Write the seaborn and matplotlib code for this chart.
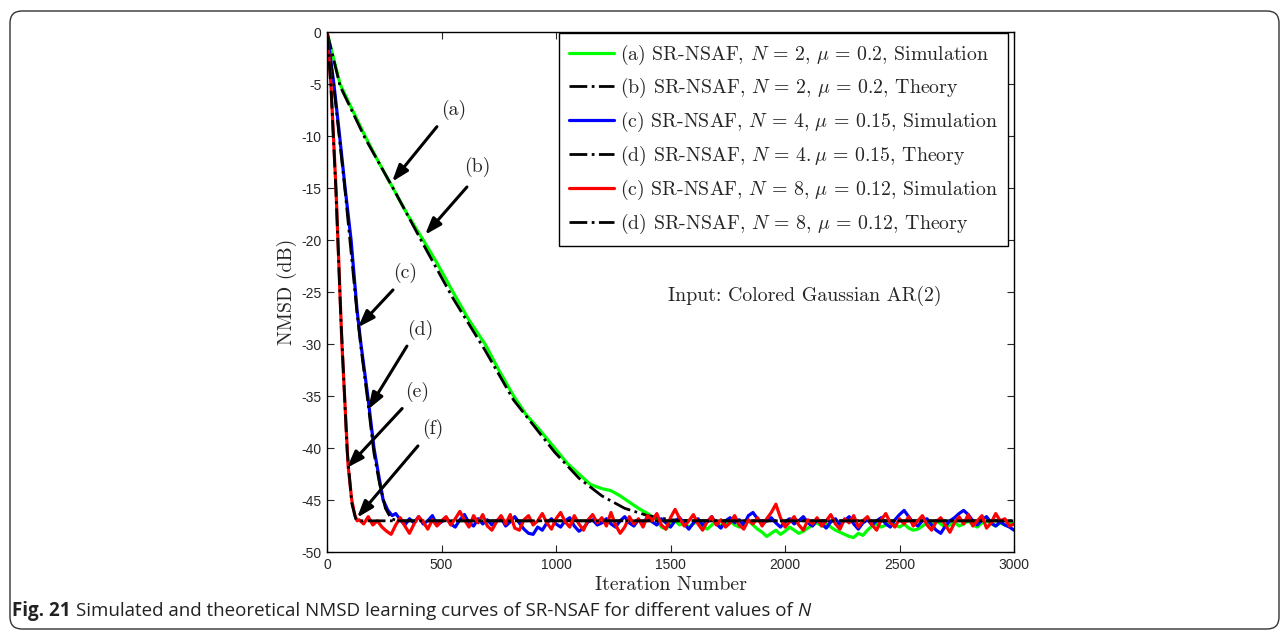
import matplotlib
matplotlib.use("Agg")
import matplotlib.pyplot as plt
from matplotlib.patches import FancyBboxPatch
from matplotlib.transforms import IdentityTransform
import numpy as np
import seaborn as sns

# ---- data (iteration, NMSD dB) ----
# transient parts of the simulated curves
green_sim_it = [0, 20, 57, 100, 166, 230, 288, 350, 420, 480, 550, 620, 690,
                750, 815, 870, 930, 994, 1050, 1100, 1150, 1200, 1240, 1280,
                1320, 1360, 1400, 1440]
green_sim_db = [0, -1.8, -5, -7, -10, -12.7, -15, -17.5, -20, -22.2, -25,
                -27.7, -30, -32.5, -35, -36.8, -38.3, -40, -41.5, -42.5,
                -43.5, -43.9, -44.1, -44.6, -45.2, -45.8, -46.3, -46.9]
blue_sim_it = [0, 30, 55, 79, 105, 131, 148, 178, 205, 223, 245, 266, 285]
blue_sim_db = [0, -5, -10, -15, -20, -26.7, -30, -35, -40, -42.3, -45, -46,
               -46.5]
red_sim_it = [0, 17, 39, 60, 65, 88, 92, 108, 122, 132]
red_sim_db = [0, -5, -15, -27, -30, -40, -41.7, -45, -46.5, -47]

# steady-state parts (every 20 iterations up to 3000)
green_ss_start = 1460
green_ss = [-47.6, -47.8, -47.3, -47.0, -47.4, -47.2, -47.6, -47.3, -47.0,
            -47.5, -47.8, -47.4, -47.1, -47.5, -47.3, -47.0, -47.4, -47.6,
            -47.2, -47.0, -47.4, -47.8, -48.1, -48.5, -48.2, -47.9, -48.3,
            -48.0, -47.6, -47.9, -48.2, -48.0, -47.7, -47.4, -47.2, -47.5,
            -47.3, -47.6, -47.9, -48.1, -48.3, -48.5, -48.6, -48.2, -48.4,
            -47.9, -47.5, -47.3, -47.6, -47.4, -47.1, -47.4, -47.6, -47.3,
            -47.7, -47.9, -47.8, -47.5, -47.2, -47.4, -47.0, -47.3, -47.6,
            -47.4, -47.1, -47.5, -47.3, -47.0, -47.4, -47.6, -47.2, -47.0,
            -47.3, -47.5, -47.2, -47.4, -47.3, -47.2]
blue_ss_start = 300
blue_ss = [-46.3, -46.9, -47.4, -46.8, -47.2, -46.6, -47.3, -47.0, -46.5,
           -47.4, -47.1, -46.7, -47.3, -47.6, -46.9, -46.4, -47.2, -47.5,
           -46.8, -47.3, -46.9, -47.4, -47.0, -46.7, -47.5, -47.1, -46.6,
           -47.2, -47.8, -48.2, -48.3, -47.6, -47.9, -47.2, -46.8, -47.3,
           -47.6, -47.0, -46.7, -47.5, -48.0, -47.7, -47.1, -46.9, -47.4,
           -47.2, -46.8, -47.3, -47.6, -47.0, -46.6, -47.2, -47.5, -46.9,
           -47.3, -46.6, -47.1, -47.4, -46.8, -47.2, -47.6, -47.0, -46.7,
           -47.3, -47.8, -47.2, -46.8, -47.4, -47.1, -46.6, -47.3, -47.7,
           -47.0, -46.7, -47.2, -46.9, -47.4, -46.5, -46.2, -46.8, -47.3,
           -47.0, -46.7, -47.2, -47.6, -47.1, -46.8, -47.3, -47.0, -46.6,
           -47.2, -47.5, -46.9, -47.3, -47.7, -47.1, -46.8, -47.4, -47.0,
           -46.6, -47.3, -47.8, -47.2, -46.9, -47.4, -47.0, -46.7, -47.3,
           -47.6, -46.9, -46.4, -46.0, -46.6, -47.2, -47.5, -47.0, -46.8,
           -47.4, -47.9, -48.2, -47.5, -47.0, -46.7, -46.3, -46.0, -46.4,
           -47.0, -47.4, -46.9, -46.6, -47.2, -47.5, -47.1, -47.4, -47.6,
           -47.9]
red_ss_start = 140
red_ss = [-46.9, -47.3, -46.6, -47.4, -47.0, -47.6, -48.0, -48.3, -47.4,
          -46.7, -47.5, -48.2, -47.3, -46.6, -47.1, -47.8, -46.9, -47.5,
          -47.0, -46.6, -47.4, -46.8, -46.1, -46.9, -47.6, -46.5, -47.2,
          -46.4, -47.5, -47.9, -47.1, -46.5, -47.3, -46.4, -47.7, -47.9,
          -46.9, -46.5, -47.4, -47.0, -46.3, -47.2, -47.8, -46.8, -46.2,
          -47.1, -47.6, -46.5, -47.3, -47.9, -46.9, -46.4, -47.2, -46.7,
          -47.5, -46.2, -47.4, -48.2, -47.6, -46.6, -47.3, -46.8, -47.6,
          -46.5, -47.0, -46.3, -47.4, -47.8, -46.7, -45.9, -46.8, -47.5,
          -47.0, -46.4, -47.3, -47.9, -47.1, -46.6, -47.4, -46.9, -47.6,
          -47.2, -46.5, -47.4, -47.8, -46.9, -47.3, -46.7, -47.5, -46.8,
          -46.2, -45.4, -46.7, -47.6, -47.1, -46.6, -47.4, -47.9, -46.9,
          -47.3, -46.7, -47.5, -47.0, -46.4, -47.3, -47.8, -46.8, -47.2,
          -46.5, -47.6, -47.0, -46.6, -47.4, -47.9, -46.9, -46.3, -47.2,
          -47.6, -46.8, -47.3, -46.6, -47.5, -47.0, -46.5, -47.4, -47.9,
          -47.1, -46.7, -47.4, -48.1, -47.2, -46.6, -47.3, -46.4, -47.5,
          -47.0, -46.5, -47.7, -47.2, -46.3, -47.0, -46.8, -47.5, -47.3]

# theory curves
green_th_it = [0, 57, 166, 288, 420, 550, 690, 815, 994, 1100, 1200, 1300,
               1400, 1500, 1600, 3000]
green_th_db = [0, -5.2, -10.2, -15, -20.4, -25.6, -30.6, -35.4, -40.4, -42.9,
               -44.6, -45.8, -46.5, -46.9, -47, -47]
blue_th_it = [0, 30, 79, 131, 148, 178, 205, 230, 255, 280, 310, 3000]
blue_th_db = [0, -5.3, -15.3, -27, -30.3, -35.5, -40.5, -43.5, -45.8, -46.8,
              -47, -47]
red_th_it = [0, 17, 39, 60, 88, 108, 125, 140, 3000]
red_th_db = [0, -5.2, -15.3, -27.3, -40.3, -45.3, -46.8, -47, -47]

labels = [
    r"(a) SR-NSAF, $N\,=\,2,\,\mu\,=\,0.2$, Simulation",
    r"(b) SR-NSAF, $N\,=\,2,\,\mu\,=\,0.2$, Theory",
    r"(c) SR-NSAF, $N\,=\,4,\,\mu\,=\,0.15$, Simulation",
    r"(d) SR-NSAF, $N\,=\,4.\mu\,=\,0.15$, Theory",
    r"(c) SR-NSAF, $N\,=\,8,\,\mu\,=\,0.12$, Simulation",
    r"(d) SR-NSAF, $N\,=\,8,\,\mu\,=\,0.12$, Theory",
]
colors = ["#00ff00", "black", "#0000ff", "black", "#ff0000", "black"]

# arrow labels: (text, text pos, arrow tail, arrow head)
arrows = [
    ("(a)", (552, -7.5), (480, -9.1), (284, -14.4)),
    ("(b)", (657, -13.0), (611, -14.9), (428, -19.5)),
    ("(c)", (341, -23.2), (288, -24.8), (135, -28.4)),
    ("(d)", (405, -28.6), (349, -30.2), (179, -36.3)),
    ("(e)", (393, -34.6), (328, -36.2), (87, -41.9)),
    ("(f)", (461, -38.2), (397, -39.8), (131, -46.7)),
]


def full_curve(it, db, start, ss):
    x = np.concatenate([it, np.linspace(start, 3000, len(ss))])
    y = np.concatenate([db, ss])
    return x, y


sns.set_style("ticks")
plt.rcParams["font.family"] = ["cmr10"]
plt.rcParams["mathtext.fontset"] = "cm"
plt.rcParams["axes.unicode_minus"] = False

FS = 14.3

fig = plt.figure(figsize=(12.87, 6.34), dpi=100)
ax = fig.add_axes([0.2541, 0.1293, 0.5338, 0.8202])

series = [
    full_curve(green_sim_it, green_sim_db, green_ss_start, green_ss),
    (np.array(green_th_it), np.array(green_th_db)),
    full_curve(blue_sim_it, blue_sim_db, blue_ss_start, blue_ss),
    (np.array(blue_th_it), np.array(blue_th_db)),
    full_curve(red_sim_it, red_sim_db, red_ss_start, red_ss),
    (np.array(red_th_it), np.array(red_th_db)),
]
handles = []
for i, (x, y) in enumerate(series):
    ls = "-" if i % 2 == 0 else "-."
    lw = 2.3 if i % 2 == 0 else 2.0
    sns.lineplot(x=x, y=y, ax=ax, color=colors[i], lw=lw, ls=ls,
                 estimator=None, sort=False)
    handles.append(ax.lines[-1])

ax.set_xlim(0, 3000)
ax.set_ylim(-50, 0)
ax.set_xticks(np.arange(0, 3001, 500))
ax.set_yticks(np.arange(-50, 1, 5))
ax.tick_params(direction="in", top=True, right=True, length=5, width=0.8,
               labelsize=10, pad=4)
for lab in ax.get_xticklabels() + ax.get_yticklabels():
    lab.set_fontfamily("Liberation Sans")
for s in ax.spines.values():
    s.set_linewidth(1.0)
    s.set_color("black")
ax.set_xlabel("Iteration Number", fontsize=FS, labelpad=3)
ax.set_ylabel("NMSD (dB)", fontsize=FS, labelpad=3)

leg = ax.legend(handles, labels, loc="upper right",
                bbox_to_anchor=(0.9905, 0.999), borderaxespad=0,
                fontsize=FS, handlelength=2.26, handletextpad=0.3,
                labelspacing=0.49, borderpad=0.5, fancybox=False,
                framealpha=1, edgecolor="black")
leg.get_frame().set_linewidth(1.0)

for txt, tpos, tail, head in arrows:
    ax.annotate("", xy=head, xytext=tail,
                arrowprops=dict(arrowstyle="-|>,head_length=1.0,head_width=0.35",
                                lw=2.2, color="black", shrinkA=0, shrinkB=0))
    ax.text(tpos[0], tpos[1], txt, fontsize=FS, ha="center", va="center")

ax.text(2087, -25.4, "Input: Colored Gaussian AR(2)", fontsize=FS,
        ha="center", va="center")

# rounded outer frame and caption
frame = FancyBboxPatch((10, 634 - 629), 1269, 618,
                       boxstyle="round,pad=0,rounding_size=12",
                       transform=IdentityTransform(), fill=False,
                       edgecolor="#333333", lw=1.0)
fig.patches.append(frame)

cap_y = 1 - 611 / 634
cap_fs = 13.5
r = fig.canvas.get_renderer()
t1 = fig.text(12 / 1287, cap_y, "Fig. 21", fontsize=cap_fs, fontweight="bold",
              family=["Open Sans", "DejaVu Sans"], va="center", color="#222222")
bb = t1.get_window_extent(renderer=r)
t2 = fig.text((bb.x1 + 5) / 1287, cap_y,
              "Simulated and theoretical NMSD learning curves of SR-NSAF for different values of",
              fontsize=cap_fs, family=["Open Sans", "DejaVu Sans"], va="center",
              color="#222222")
bb2 = t2.get_window_extent(renderer=r)
fig.text((bb2.x1 + 5) / 1287, cap_y, "N", fontsize=cap_fs, style="italic",
         family=["Open Sans", "DejaVu Sans"], va="center", color="#222222")

fig.savefig("out.png", dpi=100)
